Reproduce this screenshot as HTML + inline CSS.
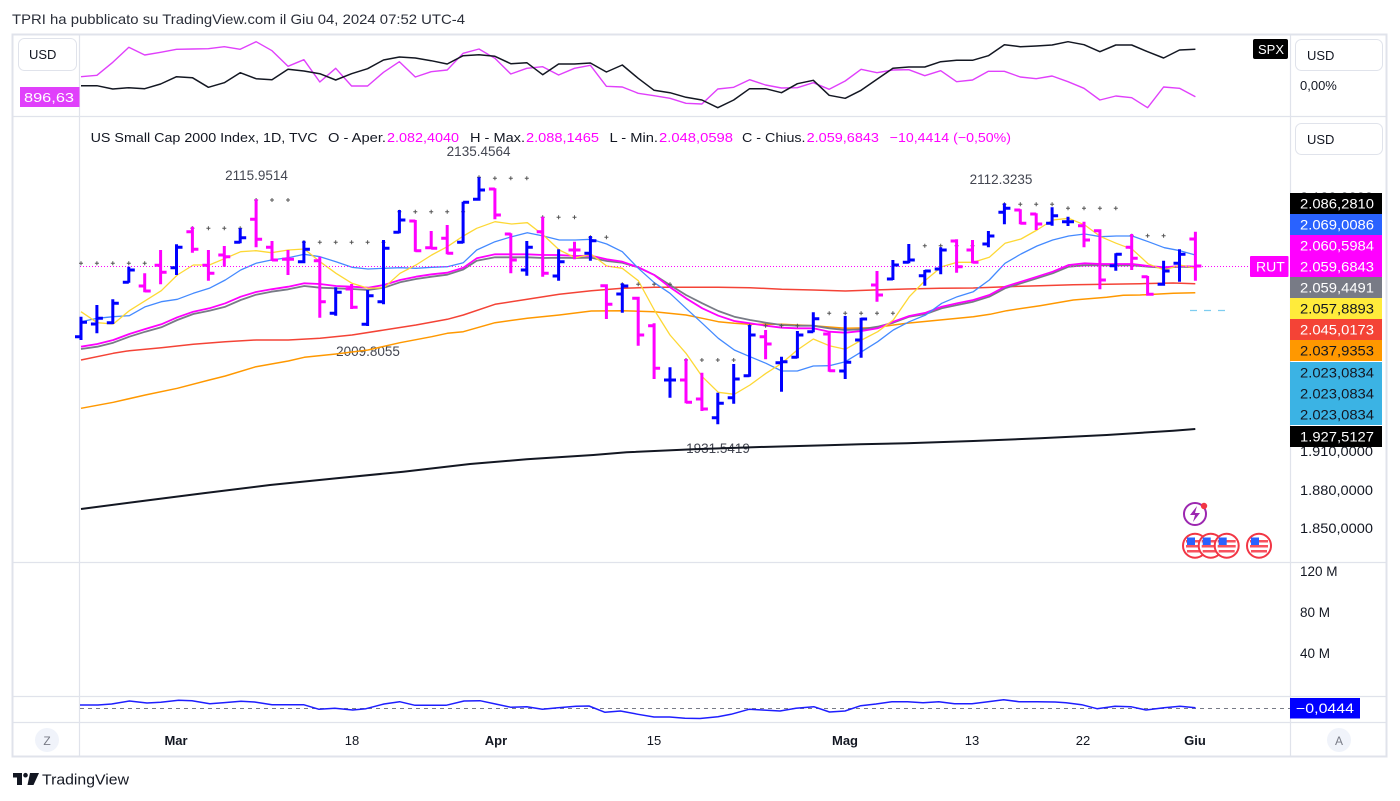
<!DOCTYPE html>
<html><head><meta charset="utf-8"><style>
html,body{margin:0;padding:0;background:#fff;}
body{width:1400px;height:801px;overflow:hidden;}
svg{display:block;font-family:"Liberation Sans",sans-serif;}
</style></head><body>
<svg width="1400" height="801" viewBox="0 0 1400 801" xmlns="http://www.w3.org/2000/svg">
<rect width="1400" height="801" fill="#fff"/>
<text x="12" y="24" font-size="14" fill="#2a2e39" textLength="453" lengthAdjust="spacingAndGlyphs">TPRI ha pubblicato su TradingView.com il Giu 04, 2024 07:52 UTC-4</text>

<!-- frame -->
<rect x="12.5" y="34.5" width="1374" height="722" fill="none" stroke="#e0e3eb" stroke-width="2"/>
<g stroke="#e0e3eb" stroke-width="1.2">
<line x1="79.5" y1="34" x2="79.5" y2="757"/>
<line x1="1290.5" y1="34" x2="1290.5" y2="757"/>
<line x1="12" y1="116.5" x2="1387" y2="116.5"/>
<line x1="12" y1="562.5" x2="1387" y2="562.5"/>
<line x1="12" y1="696.5" x2="1387" y2="696.5"/>
<line x1="12" y1="722.5" x2="1387" y2="722.5"/>
</g>

<!-- top compare panel -->
<rect x="18.5" y="38.5" width="58" height="32" rx="6" fill="#fff" stroke="#e0e3eb"/>
<text x="29" y="59" font-size="13" fill="#131722">USD</text>
<rect x="20" y="87" width="59.5" height="20" fill="#e040fb"/>
<text x="24" y="102" font-size="13" fill="#fff" textLength="50" lengthAdjust="spacingAndGlyphs">896,63</text>
<polyline fill="none" stroke="#e040fb" stroke-width="1.4" stroke-linejoin="round" points="81,76.7 96.9,75.3 112.8,62.3 128.8,47.3 144.7,55 160.6,52.3 176.5,49.3 192.4,49 208.4,48.7 224.3,46.7 240.2,49.3 256.1,41.7 272,50.7 288,66.3 303.9,59.7 319.8,82 335.7,68.3 351.6,86 367.6,86 383.5,72.3 399.4,61.7 415.3,77 431.2,71.7 447.2,70 463.1,53.3 479,49 494.9,58.3 510.8,74 526.8,68.3 542.7,66.7 558.6,75 574.5,68.3 590.4,65.3 606.4,86.3 622.3,87 638.2,93.3 654.1,95.7 670,98.3 686,103.3 701.9,104 717.8,89 733.7,87.3 749.6,79.7 765.6,85 781.5,88 797.4,87.7 813.3,82.7 829.2,89.3 845.2,81 861.1,69.3 877,72.7 892.9,70 908.8,69.7 924.8,75.7 940.7,70.7 956.6,81.7 972.5,80 988.4,71.3 1004.4,71.3 1020.3,77 1036.2,78.7 1052.1,76 1068,81.7 1084,88.3 1099.9,100 1115.8,96 1131.7,97.7 1147.6,107.7 1163.6,87 1179.5,88.3 1195.4,96.7"/>
<polyline fill="none" stroke="#131722" stroke-width="1.5" stroke-linejoin="round" points="81,85.7 96.9,85.7 112.8,89 128.8,87.7 144.7,88.7 160.6,84 176.5,76.7 192.4,77.7 208.4,87.3 224.3,82.7 240.2,72.7 256.1,78.7 272,79.7 288,69.3 303.9,71 319.8,73.7 335.7,80 351.6,73.7 367.6,68.7 383.5,60 399.4,57 415.3,58 431.2,60.7 447.2,64 463.1,55.7 479,54.7 494.9,56.3 510.8,63.7 526.8,62.7 542.7,74.7 558.6,64 574.5,64 590.4,63 606.4,72 622.3,65 638.2,78.3 654.1,90.3 670,92.7 686,97.3 701.9,100 717.8,107.7 733.7,100 749.6,88.7 765.6,88.7 781.5,92.7 797.4,83.7 813.3,80.3 829.2,95.3 845.2,98.3 861.1,90.3 877,79.3 892.9,68.3 908.8,67 924.8,67 940.7,61.7 956.6,60.3 972.5,60.3 988.4,55.7 1004.4,44.7 1020.3,46.7 1036.2,46 1052.1,45 1068,41.7 1084,44.7 1099.9,51.7 1115.8,45 1131.7,45 1147.6,51.7 1163.6,58 1179.5,50 1195.4,49.3"/>
<rect x="1253" y="39" width="35" height="20" rx="2" fill="#000"/>
<text x="1258" y="54" font-size="13" fill="#fff">SPX</text>
<rect x="1295.5" y="39.5" width="87" height="31" rx="6" fill="#fff" stroke="#e0e3eb"/>
<text x="1307" y="60" font-size="13" fill="#131722">USD</text>
<text x="1300" y="90" font-size="13" fill="#131722">0,00%</text>

<!-- main panel -->
<rect x="1295.5" y="123.5" width="87" height="31" rx="6" fill="#fff" stroke="#e0e3eb"/>
<text x="1307" y="144" font-size="13" fill="#131722">USD</text>

<g font-size="13" fill="#131722">
<text x="90.6" y="142" textLength="227" lengthAdjust="spacingAndGlyphs">US Small Cap 2000 Index, 1D, TVC</text>
<text x="328" y="142" textLength="58" lengthAdjust="spacingAndGlyphs">O - Aper.</text>
<text x="387" y="142" fill="#ff00ff" textLength="72" lengthAdjust="spacingAndGlyphs">2.082,4040</text>
<text x="470" y="142" textLength="55" lengthAdjust="spacingAndGlyphs">H - Max.</text>
<text x="526" y="142" fill="#ff00ff" textLength="73" lengthAdjust="spacingAndGlyphs">2.088,1465</text>
<text x="609.5" y="142" textLength="48.5" lengthAdjust="spacingAndGlyphs">L - Min.</text>
<text x="659" y="142" fill="#ff00ff" textLength="74" lengthAdjust="spacingAndGlyphs">2.048,0598</text>
<text x="742" y="142" textLength="63.5" lengthAdjust="spacingAndGlyphs">C - Chius.</text>
<text x="806.6" y="142" fill="#ff00ff" textLength="72.4" lengthAdjust="spacingAndGlyphs">2.059,6843</text>
<text x="889.7" y="142" fill="#ff00ff" textLength="121.3" lengthAdjust="spacingAndGlyphs">−10,4414 (−0,50%)</text>
</g>

<g font-size="13.5" fill="#434651" text-anchor="middle">
<text x="256.5" y="180">2115.9514</text>
<text x="478.6" y="156">2135.4564</text>
<text x="368" y="356">2009.8055</text>
<text x="718" y="453">1931.5419</text>
<text x="1001" y="184">2112.3235</text>
</g>

<!-- moving averages -->
<g fill="none" stroke-linejoin="round">
<polyline stroke="#131722" stroke-width="2" points="81,509 136.7,501.7 203.3,493.3 270,485 336.7,478.3 403.3,471.7 470,464 526.7,459.3 593.3,455 626.7,452.3 693.3,449.3 760,447 826.7,445.3 860,444.3 906.7,443.3 973.3,441 1040,438.3 1106.7,435 1173.3,430.7 1195.3,429"/>
<polyline stroke="#ff9800" stroke-width="1.5" points="81,408.3 113.3,402.3 145.3,395 177.3,388.3 209.3,380 225.3,376 256,366.7 288.3,361 304.3,357.3 336,354 368,350 400,342.7 431.7,336.7 447.3,333.3 463.3,331.7 495,322.7 527.3,318.3 559.3,315 591.3,311 622.3,310.7 654.3,311.7 686,315 702.3,318.3 718.3,321.7 734.3,323.3 750,324.3 781.7,324.3 813.3,325.7 845.3,328.3 873.3,327.7 906.7,323.3 940,320 973.3,316.7 990,314.3 1006.7,310.7 1040,305.7 1073.3,300 1106.7,297.3 1123.3,295.3 1140,295 1173.3,293.3 1195.3,292.7"/>
<polyline stroke="#f44336" stroke-width="1.5" points="81,360 113.3,353.3 129.3,350.7 161.3,347.7 193.3,344.3 225.3,341.7 256,340 288.3,340 320,338.3 352,335 384,330 416,325 447.3,319.3 463.3,315 495,304.3 527.3,299.3 559.3,294.3 591.3,290.7 622.3,288.3 654.3,287.3 686,287.3 718.3,287.3 750,287.7 781.7,289.3 813.3,290 845.3,291 873.3,290 906.7,289 940,288.3 973.3,288 1006.7,286.7 1040,285.7 1073.3,284.7 1106.7,284.3 1140,283.7 1173.3,283 1195.3,283.7"/>
<polyline stroke="#787b86" stroke-width="1.8" points="81,349 97.3,346.7 113.3,342.7 129.3,336.7 145.3,331.7 161.3,327.3 177.3,320 193.3,314 209.3,310.7 225.3,306.7 240.7,300 256,294.7 271.3,291.7 288.3,289.3 304.3,286 320,287.7 336,288.3 352,289 368,290 384,287.7 400,282.3 416,279 431.7,276.7 447.3,274.7 463.3,269.5 476.7,260.7 495,257.3 511.7,257.3 527.3,257.3 543.3,258 559.3,257.7 575.3,258 591.3,257.7 606.7,261 622.3,262.7 638.3,267.3 654.3,275 670,285 686,295 702.3,303.3 718.3,311 734.3,316.7 750,320 766,322.7 781.7,325 797.3,325.7 813.3,325.7 829.3,328.3 845.3,330 861.7,329.3 877.7,326.7 893.3,322.7 909.3,316.7 925.7,314 941.7,308.3 957.3,305 973.3,301.7 989.3,296.7 1005,288.3 1021,283.3 1037,278.3 1052.7,273.3 1068.7,266.7 1084.7,265.3 1100.7,265.3 1116.3,265.3 1132.3,265.3 1148.3,266.7 1164.3,267.7 1180,266.7 1195.3,267.3"/>
<polyline stroke="#ff00ff" stroke-width="1.8" points="81,346.7 97.3,344 113.3,340 129.3,334 145.3,329 161.3,324.3 177.3,317.3 193.3,311.7 209.3,308.3 225.3,303.3 240.7,296.7 256,292 271.3,289.3 288.3,286.7 304.3,283.3 320,284 336,286 352,286.7 368,287.7 384,285 400,280 416,276.7 431.7,274.3 447.3,272.7 463.3,267.7 476.7,258.3 495,254.3 511.7,254.3 527.3,254.3 543.3,255 559.3,255 575.3,256 591.3,255.7 606.7,259.3 622.3,261.7 638.3,267.3 654.3,275 670,287.3 686,298.3 702.3,308.3 718.3,315.7 734.3,321 750,323.3 766,325.7 781.7,327.7 797.3,328.3 813.3,328.3 829.3,331.7 845.3,332.7 861.7,331 877.7,328.3 893.3,321.7 909.3,316 925.7,312.7 941.7,306.7 957.3,303.3 973.3,300 989.3,295 1005,286.7 1021,281.7 1037,276.7 1052.7,271.7 1068.7,265 1084.7,263.3 1100.7,264 1116.3,264 1132.3,264 1148.3,266 1164.3,267.3 1180,266 1195.3,266.7"/>
<polyline stroke="#448aff" stroke-width="1.3" points="81,321.7 97.3,318.3 113.3,316.7 129.3,315.7 145.3,306.7 161.3,301.7 177.3,299.3 193.3,293.3 209.3,288.3 225.3,280 240.7,270 256,263.3 271.3,260 288.3,257.7 304.3,254.3 320,256.7 336,261.7 352,267.3 368,269 384,268.3 400,267.7 416,268.3 431.7,267.3 447.3,266.7 463.3,262.7 476.7,250 495,241.7 511.7,236.7 527.3,232.7 543.3,236 559.3,240 575.3,240 591.3,239.3 606.7,244 622.3,251.7 638.3,268.3 654.3,282.7 670,293.3 686,308.3 702.3,323.3 718.3,338.3 734.3,350 750,356.7 766,363.3 781.7,371 797.3,371 813.3,366 829.3,365.7 845.3,361.7 861.7,351.7 877.7,341.7 893.3,330 909.3,321.7 925.7,315 941.7,303.3 957.3,296.7 973.3,291.7 989.3,280 1005,263.3 1021,254 1037,246 1052.7,240 1068.7,236 1084.7,234 1100.7,236.7 1116.3,236 1132.3,236 1148.3,241.7 1164.3,247.7 1180,250.7 1195.3,255"/>
<polyline stroke="#fdd835" stroke-width="1.3" points="81,311.7 97.3,322.7 113.3,324 129.3,310.7 145.3,300.7 161.3,290.7 177.3,275 193.3,265 209.3,265 225.3,258.3 240.7,251.7 256,250.7 271.3,252.7 288.3,250 304.3,249 320,261.7 336,273.3 352,283.3 368,288.3 384,287.7 400,273.3 416,265 431.7,255 447.3,246.7 463.3,236 476.7,228.3 495,221.7 511.7,224 527.3,222.7 543.3,235 559.3,250 575.3,257.7 591.3,254.3 606.7,266 622.3,268.3 638.3,280.7 654.3,310 670,335 686,353.3 702.3,376.7 718.3,392.3 734.3,394.3 750,385 766,373.3 781.7,363.3 797.3,350 813.3,339 829.3,345.7 845.3,349.3 861.7,340 877.7,331.7 893.3,320 909.3,296.7 925.7,280 941.7,266.7 957.3,262.3 973.3,262.3 989.3,257.3 1005,243.3 1021,239 1037,230 1052.7,220 1068.7,218.3 1084.7,225 1100.7,236.7 1116.3,243.3 1132.3,249.3 1148.3,264 1164.3,270 1180,265 1195.3,268.3"/>
</g>

<!-- current price line -->
<line x1="80" y1="266.5" x2="1250" y2="266.5" stroke="#ff00ff" stroke-width="1" stroke-dasharray="1 2"/>
<line x1="1190" y1="310.5" x2="1232" y2="310.5" stroke="#7ecdf0" stroke-width="1.3" stroke-dasharray="7 7"/>

<!-- plus markers -->
<path fill="none" stroke="#555" stroke-width="1" d="M79 263.3h4M81 261.3v4M94.9 263.3h4M96.9 261.3v4M110.8 263.3h4M112.8 261.3v4M126.8 263.3h4M128.8 261.3v4M142.7 263.3h4M144.7 261.3v4
M190.4 228.3h4M192.4 226.3v4M206.4 228.3h4M208.4 226.3v4M222.3 228.3h4M224.3 226.3v4M238.2 228.3h4M240.2 226.3v4
M254.1 200h4M256.1 198v4M270 200h4M272 198v4M286 200h4M288 198v4
M301.9 242.3h4M303.9 240.3v4M317.8 242.3h4M319.8 240.3v4M333.7 242.3h4M335.7 240.3v4M349.6 242.3h4M351.6 240.3v4M365.6 242.3h4M367.6 240.3v4M381.5 242.3h4M383.5 240.3v4
M397.4 211.7h4M399.4 209.7v4M413.3 211.7h4M415.3 209.7v4M429.2 211.7h4M431.2 209.7v4M445.2 211.7h4M447.2 209.7v4M461.1 211.7h4M463.1 209.7v4
M477 177.3h4M479 175.3v4M492.9 178.3h4M494.9 176.3v4M508.8 178.3h4M510.8 176.3v4M524.8 178.3h4M526.8 176.3v4
M540.7 217.3h4M542.7 215.3v4M556.6 217.3h4M558.6 215.3v4M572.5 217.3h4M574.5 215.3v4
M588.4 237.3h4M590.4 235.3v4M604.4 237.3h4M606.4 235.3v4
M620.3 284.3h4M622.3 282.3v4M636.2 284.3h4M638.2 282.3v4M652.1 284.3h4M654.1 282.3v4M668 284.3h4M670 282.3v4
M684 360h4M686 358v4M699.9 360h4M701.9 358v4M715.8 360h4M717.8 358v4M731.7 360h4M733.7 358v4
M747.6 325.7h4M749.6 323.7v4M763.6 325.7h4M765.6 323.7v4M779.5 325.7h4M781.5 323.7v4M795.4 325.7h4M797.4 323.7v4
M827.2 313.3h4M829.2 311.3v4M843.2 313.3h4M845.2 311.3v4M859.1 313.3h4M861.1 311.3v4M875 313.3h4M877 311.3v4M890.9 313.3h4M892.9 311.3v4
M922.8 245.7h4M924.8 243.7v4M938.7 245.7h4M940.7 243.7v4M954.6 245.7h4M956.6 243.7v4M970.5 245.7h4M972.5 243.7v4
M1002.4 204.3h4M1004.4 202.3v4M1018.3 204.3h4M1020.3 202.3v4M1034.2 204.3h4M1036.2 202.3v4M1050.1 204.3h4M1052.1 202.3v4
M1066 208.3h4M1068 206.3v4M1082 208.3h4M1084 206.3v4M1097.9 208.3h4M1099.9 206.3v4M1113.8 208.3h4M1115.8 206.3v4
M1129.7 235.7h4M1131.7 233.7v4M1145.6 235.7h4M1147.6 233.7v4M1161.6 235.7h4M1163.6 233.7v4"/>

<!-- OHLC bars: blue -->
<path fill="none" stroke="#0000ff" stroke-width="3" d="M81 316.7V340M75 336.7H81M81 322.3H87
M96.9 305V333.3M90.9 324H96.9M96.9 318.3H102.9
M112.8 299.3V324M106.8 322.7H112.8M112.8 303.3H118.8
M128.8 266.7V282.7M122.8 282.3H128.8M128.8 270H134.8
M176.5 244.3V275M170.5 267.7H176.5M176.5 247.3H182.5
M240.2 228.3V243.3M234.2 242.3H240.2M240.2 237.7H246.2
M303.9 240.7V263.3M297.9 261.7H303.9M303.9 249.3H309.9
M335.7 287.3V315.7M329.7 313.3H335.7M335.7 292.3H341.7
M367.6 290V326M361.6 324.3H367.6M367.6 295.7H373.6
M383.5 240V304.3M377.5 301.7H383.5M383.5 248.3H389.5
M399.4 210V233.3M393.4 232.3H399.4M399.4 220H405.4
M463.1 201.7V243.3M457.1 242.3H463.1M463.1 202.3H469.1
M479 177.3V200.7M473 199.3H479M479 190H485
M526.8 241V275.7M520.8 270H526.8M526.8 247.3H532.8
M558.6 249.3V280.7M552.6 276H558.6M558.6 261.7H564.6
M590.4 236V260.7M584.4 253.3H590.4M590.4 240.7H596.4
M622.3 283.3V312.7M616.3 294H622.3M622.3 286H628.3
M670 367.3V397.7M664 380H670M670 380H676
M717.8 392.7V424.3M711.8 417.7H717.8M717.8 403.3H723.8
M733.7 364V403.7M727.7 397.7H733.7M733.7 379H739.7
M749.6 325V376.7M743.6 375.7H749.6M749.6 335H755.6
M781.5 356.7V391.7M775.5 362.7H781.5M781.5 361.7H787.5
M797.4 331V358.3M791.4 357.3H797.4M797.4 335H803.4
M813.3 312.3V332.3M807.3 331.7H813.3M813.3 318.7H819.3
M845.2 316V379M839.2 371H845.2M845.2 362.3H851.2
M861.1 317.7V357.7M855.1 340H861.1M861.1 319H867.1
M892.9 260V280M886.9 279H892.9M892.9 265H898.9
M908.8 244V263.3M902.8 262.3H908.8M908.8 260H914.8
M924.8 270V285.7M918.8 275.7H924.8M924.8 271H930.8
M940.7 247.3V274.3M934.7 269H940.7M940.7 250H946.7
M988.4 231V247.3M982.4 244H988.4M988.4 236H994.4
M1004.4 203.3V224.3M998.4 212.3H1004.4M1004.4 208.3H1010.4
M1052.1 207.3V225.7M1046.1 223.3H1052.1M1052.1 215.7H1058.1
M1068 216.7V226M1062 221.7H1068M1068 221.7H1074
M1115.8 253.3V270.7M1109.8 265.7H1115.8M1115.8 254.3H1121.8
M1163.6 260.7V285.7M1157.6 284.3H1163.6M1163.6 271H1169.6
M1179.5 249.3V281.7M1173.5 263.3H1179.5M1179.5 254.3H1185.5"/>
<!-- OHLC bars: magenta -->
<path fill="none" stroke="#ff00ff" stroke-width="3" d="M144.7 273.3V292.3M138.7 286H144.7M144.7 291H150.7
M160.6 250V284.3M154.6 265.3H160.6M160.6 272.3H166.6
M192.4 226.7V252.7M186.4 231.7H192.4M192.4 249.3H198.4
M208.4 250V280.7M202.4 265.3H208.4M208.4 273.3H214.4
M224.3 246V266.7M218.3 255H224.3M224.3 256.7H230.3
M256.1 199.3V247.3M250.1 219.3H256.1M256.1 239.3H262.1
M272 241V261M266 247.3H272M272 260H278
M288 250V275M282 259.3H288M288 259.3H294
M319.8 256.7V317.7M313.8 260.7H319.8M319.8 301.7H325.8
M351.6 284V309M345.6 289H351.6M351.6 307.3H357.6
M415.3 220V251.7M409.3 221H415.3M415.3 250.7H421.3
M431.2 231V249M425.2 247.7H431.2M431.2 248.3H437.2
M447.2 225V254.3M441.2 238.3H447.2M447.2 253.3H453.2
M494.9 188.3V219.3M488.9 189H494.9M494.9 215H500.9
M510.8 233.3V273.3M504.8 234H510.8M510.8 260H516.8
M542.7 216.7V276.7M536.7 231.7H542.7M542.7 273.3H548.7
M574.5 241.7V259.3M568.5 250H574.5M574.5 250H580.5
M606.4 284.3V319M600.4 285.7H606.4M606.4 304.3H612.4
M638.2 296.7V345.7M632.2 298.3H638.2M638.2 335H644.2
M654.1 323.3V379M648.1 325.7H654.1M654.1 368.3H660.1
M686 359V403.3M680 380H686M686 402.3H692
M701.9 372.7V411M695.9 399H701.9M701.9 409H707.9
M765.6 330V359.3M759.6 336.7H765.6M765.6 344H771.6
M829.2 332.3V371.7M823.2 334H829.2M829.2 370.7H835.2
M877 271V301.7M871 285H877M877 295H883
M956.6 239.3V272.7M950.6 241H956.6M956.6 266.7H962.6
M972.5 240V263.3M966.5 250H972.5M972.5 262.3H978.5
M1020.3 209.3V224.3M1014.3 210H1020.3M1020.3 223.3H1026.3
M1036.2 213.3V230M1030.2 214H1036.2M1036.2 224H1042.2
M1084 221.7V247.3M1078 225.7H1084M1084 240H1090
M1099.9 229.3V289.3M1093.9 230.7H1099.9M1099.9 280H1105.9
M1131.7 234V270M1125.7 247.3H1131.7M1131.7 258.3H1137.7
M1147.6 276V295.7M1141.6 276.7H1147.6M1147.6 294.3H1153.6
M1195.4 231.7V280.7M1189.4 239H1195.4M1195.4 266H1201.4"/>

<!-- event icons -->
<circle cx="1195" cy="514" r="11" fill="#fff" stroke="#9c27b0" stroke-width="2"/>
<path d="M1197 506L1190 515H1195L1193 522L1200 513H1195Z" fill="#9c27b0"/>
<circle cx="1204" cy="506" r="3.2" fill="#f23645"/>
<g>
<g id="flag">
<circle cx="1195" cy="545.7" r="12" fill="#fff" stroke="#f23645" stroke-width="2"/>
<rect x="1186" y="540" width="18" height="2.5" fill="#f7525f"/>
<rect x="1186" y="545" width="18" height="2.5" fill="#f7525f"/>
<rect x="1187" y="550" width="16" height="2.5" fill="#f7525f"/>
<rect x="1187" y="537.5" width="8" height="7.5" fill="#2962ff"/>
</g>
<use href="#flag" x="15.7"/>
<use href="#flag" x="31.7"/>
<use href="#flag" x="64"/>
</g>

<!-- right axis price scale -->
<g font-size="13.5" fill="#131722">
<text x="1300" y="202" textLength="73" lengthAdjust="spacingAndGlyphs">2.120,0000</text>
<text x="1300" y="456" textLength="73" lengthAdjust="spacingAndGlyphs">1.910,0000</text>
<text x="1300" y="495" textLength="73" lengthAdjust="spacingAndGlyphs">1.880,0000</text>
<text x="1300" y="533" textLength="73" lengthAdjust="spacingAndGlyphs">1.850,0000</text>
<text x="1300" y="576">120 M</text>
<text x="1300" y="617">80 M</text>
<text x="1300" y="658">40 M</text>
</g>

<g font-size="14">
<rect x="1290" y="193" width="92" height="21" fill="#000"/>
<text x="1300" y="208.5" fill="#fff" textLength="74" lengthAdjust="spacingAndGlyphs">2.086,2810</text>
<rect x="1290" y="214" width="92" height="21" fill="#2962ff"/>
<text x="1300" y="229.5" fill="#fff" textLength="74" lengthAdjust="spacingAndGlyphs">2.069,0086</text>
<rect x="1290" y="235" width="92" height="21" fill="#ff00ff"/>
<text x="1300" y="250.5" fill="#fff" textLength="74" lengthAdjust="spacingAndGlyphs">2.060,5984</text>
<rect x="1290" y="256" width="92" height="21" fill="#ff00ff"/>
<text x="1300" y="271.5" fill="#fff" textLength="74" lengthAdjust="spacingAndGlyphs">2.059,6843</text>
<rect x="1290" y="277" width="92" height="21" fill="#787b86"/>
<text x="1300" y="292.5" fill="#fff" textLength="74" lengthAdjust="spacingAndGlyphs">2.059,4491</text>
<rect x="1290" y="298" width="92" height="21" fill="#ffeb3b"/>
<text x="1300" y="313.5" fill="#131722" textLength="74" lengthAdjust="spacingAndGlyphs">2.057,8893</text>
<rect x="1290" y="319" width="92" height="21" fill="#f44336"/>
<text x="1300" y="334.5" fill="#fff" textLength="74" lengthAdjust="spacingAndGlyphs">2.045,0173</text>
<rect x="1290" y="340" width="92" height="21" fill="#ff9800"/>
<text x="1300" y="355.5" fill="#131722" textLength="74" lengthAdjust="spacingAndGlyphs">2.037,9353</text>
<rect x="1290" y="362" width="92" height="21" fill="#3bb3e4"/>
<text x="1300" y="377.5" fill="#131722" textLength="74" lengthAdjust="spacingAndGlyphs">2.023,0834</text>
<rect x="1290" y="383" width="92" height="21" fill="#3bb3e4"/>
<text x="1300" y="398.5" fill="#131722" textLength="74" lengthAdjust="spacingAndGlyphs">2.023,0834</text>
<rect x="1290" y="404" width="92" height="21" fill="#3bb3e4"/>
<text x="1300" y="419.5" fill="#131722" textLength="74" lengthAdjust="spacingAndGlyphs">2.023,0834</text>
<rect x="1290" y="426" width="92" height="21" fill="#000"/>
<text x="1300" y="441.5" fill="#fff" textLength="74" lengthAdjust="spacingAndGlyphs">1.927,5127</text>
<rect x="1250" y="256" width="38.5" height="21" rx="1" fill="#ff00ff"/>
<text x="1256" y="271.5" fill="#fff">RUT</text>
</g>

<!-- indicator panel -->
<line x1="80" y1="708.5" x2="1290" y2="708.5" stroke="#787b86" stroke-width="1" stroke-dasharray="4 4"/>
<polyline fill="none" stroke="#1e1eff" stroke-width="1.5" stroke-linejoin="round" points="80,705 98,705 111.6,704 129.5,701 147,703 160.7,702.3 178.6,700.3 192,700.7 209.8,703.7 223,702.7 241,701.3 254.5,702 272,704.7 285.7,704.7 303.6,704.7 319,709.3 334.8,708.3 352.7,710 366,708.7 384,704 399.6,701.7 415,705.3 433,705.3 446,705.3 464,701 480,700.7 495.5,704 511,707.3 526.8,706.7 542.4,709.3 558,707.7 576,706.3 589,706 605,712.3 620.5,711 638,714.3 654,717 669.6,717 685,718.3 700,718.5 717.9,716.7 731,714.3 749,709.3 762.5,710 780,711 796,708.3 813.8,706.7 829.5,712 845,711 860.7,705.7 876,704 892,701.7 907.6,701.7 923,702.7 938.8,701.7 954.5,703.7 972,703.7 988,701.7 1003.6,699.7 1019,701.7 1037,701.7 1055,702 1066,702.7 1081.7,704.7 1097,708.7 1115,706.3 1130.8,706.7 1146,710 1164,707.7 1180,706.3 1195.5,707.7"/>
<rect x="1290" y="698" width="70" height="20.5" fill="#0000ff"/>
<text x="1296" y="713" font-size="13.5" fill="#fff" textLength="58" lengthAdjust="spacingAndGlyphs">−0,0444</text>

<!-- time axis -->
<circle cx="47" cy="740" r="12" fill="#f0f3fa"/>
<text x="47" y="745" font-size="12" fill="#787b86" text-anchor="middle">Z</text>
<circle cx="1339" cy="740" r="12" fill="#f0f3fa"/>
<text x="1339" y="745" font-size="12" fill="#787b86" text-anchor="middle">A</text>
<g font-size="13" fill="#131722" text-anchor="middle">
<text x="176" y="745" font-weight="bold">Mar</text>
<text x="352" y="745">18</text>
<text x="496" y="745" font-weight="bold">Apr</text>
<text x="654" y="745">15</text>
<text x="845" y="745" font-weight="bold">Mag</text>
<text x="972" y="745">13</text>
<text x="1083" y="745">22</text>
<text x="1195" y="745" font-weight="bold">Giu</text>
</g>

<!-- footer logo -->
<path d="M13 773H22V785H17V777.5H13Z" fill="#131722"/>
<circle cx="25.5" cy="775.2" r="2.3" fill="#131722"/>
<path d="M30 773H39L33.5 785H27.5Z" fill="#131722"/>
<text x="42" y="784.5" font-size="15" fill="#131722" textLength="87" lengthAdjust="spacingAndGlyphs">TradingView</text>
</svg>
</body></html>
